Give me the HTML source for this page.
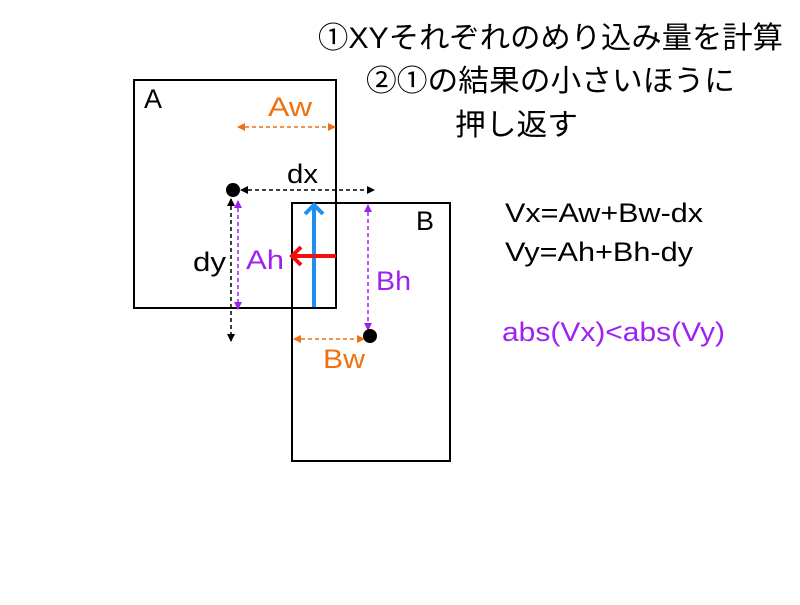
<!DOCTYPE html>
<html><head><meta charset="utf-8"><style>
body{margin:0;background:#fff;width:800px;height:600px;overflow:hidden}
svg text{font-family:"Liberation Sans","Noto Sans CJK JP",sans-serif}
</style></head><body>
<svg width="800" height="600" viewBox="0 0 800 600">
<defs>
<marker id="k" markerWidth="8" markerHeight="8" refX="7" refY="4" orient="auto-start-reverse" markerUnits="userSpaceOnUse"><path d="M0,0 L8,4 L0,8z" fill="#000"/></marker>
<marker id="o" markerWidth="8" markerHeight="8" refX="7" refY="4" orient="auto-start-reverse" markerUnits="userSpaceOnUse"><path d="M0,0 L8,4 L0,8z" fill="#f07010"/></marker>
<marker id="p" markerWidth="8" markerHeight="8" refX="7" refY="4" orient="auto-start-reverse" markerUnits="userSpaceOnUse"><path d="M0,0 L8,4 L0,8z" fill="#a020f0"/></marker>
</defs>
<g font-size="30" fill="#000">
<text x="318" y="48" textLength="465" lengthAdjust="spacingAndGlyphs">①XYそれぞれのめり込み量を計算</text>
<text x="366" y="91" textLength="369" lengthAdjust="spacingAndGlyphs">②①の結果の小さいほうに</text>
<text x="455" y="135" textLength="123" lengthAdjust="spacingAndGlyphs">押し返す</text>
</g>
<rect x="134" y="80" width="202" height="228" fill="none" stroke="#000" stroke-width="2"/>
<rect x="292" y="203" width="158" height="258" fill="none" stroke="#000" stroke-width="2"/>
<text x="144" y="108" font-size="27">A</text>
<text x="416" y="230" font-size="27">B</text>
<line x1="238" y1="127" x2="335" y2="127" stroke="#f07010" stroke-width="1.5" stroke-dasharray="4,3" marker-start="url(#o)" marker-end="url(#o)"/>
<text x="268" y="116" font-size="27" fill="#f07010" textLength="44" lengthAdjust="spacingAndGlyphs">Aw</text>
<line x1="241" y1="190" x2="374" y2="190" stroke="#000" stroke-width="1.5" stroke-dasharray="4,3" marker-start="url(#k)" marker-end="url(#k)"/>
<text x="287" y="183" font-size="27" textLength="31" lengthAdjust="spacingAndGlyphs">dx</text>
<line x1="231" y1="199" x2="231" y2="341" stroke="#000" stroke-width="1.5" stroke-dasharray="4,3" marker-start="url(#k)" marker-end="url(#k)"/>
<text x="193" y="271" font-size="27" textLength="33" lengthAdjust="spacingAndGlyphs">dy</text>
<line x1="238" y1="201" x2="238" y2="309" stroke="#a020f0" stroke-width="1.5" stroke-dasharray="4,3" marker-start="url(#p)" marker-end="url(#p)"/>
<text x="246" y="269" font-size="27" fill="#a020f0" textLength="38" lengthAdjust="spacingAndGlyphs">Ah</text>
<line x1="368" y1="205" x2="368" y2="330" stroke="#a020f0" stroke-width="1.5" stroke-dasharray="4,3" marker-start="url(#p)" marker-end="url(#p)"/>
<text x="376" y="290" font-size="27" fill="#a020f0" textLength="35" lengthAdjust="spacingAndGlyphs">Bh</text>
<line x1="294" y1="339" x2="364" y2="339" stroke="#f07010" stroke-width="1.5" stroke-dasharray="4,3" marker-start="url(#o)" marker-end="url(#o)"/>
<text x="323" y="368" font-size="27" fill="#f07010" textLength="42" lengthAdjust="spacingAndGlyphs">Bw</text>
<circle cx="233" cy="190" r="7"/>
<circle cx="370" cy="336" r="7"/>
<line x1="314" y1="307" x2="314" y2="205" stroke="#2090f0" stroke-width="4"/>
<path d="M305,214 L314,205 L323,214" fill="none" stroke="#2090f0" stroke-width="4"/>
<line x1="336" y1="256" x2="292" y2="256" stroke="#f01010" stroke-width="4"/>
<path d="M301,247 L292,256 L301,265" fill="none" stroke="#f01010" stroke-width="4"/>
<text x="505" y="222" font-size="27" textLength="198" lengthAdjust="spacingAndGlyphs">Vx=Aw+Bw-dx</text>
<text x="505" y="261" font-size="27" textLength="188" lengthAdjust="spacingAndGlyphs">Vy=Ah+Bh-dy</text>
<text x="502" y="341" font-size="27" fill="#a020f0" textLength="223" lengthAdjust="spacingAndGlyphs">abs(Vx)&lt;abs(Vy)</text>
</svg>
</body></html>
